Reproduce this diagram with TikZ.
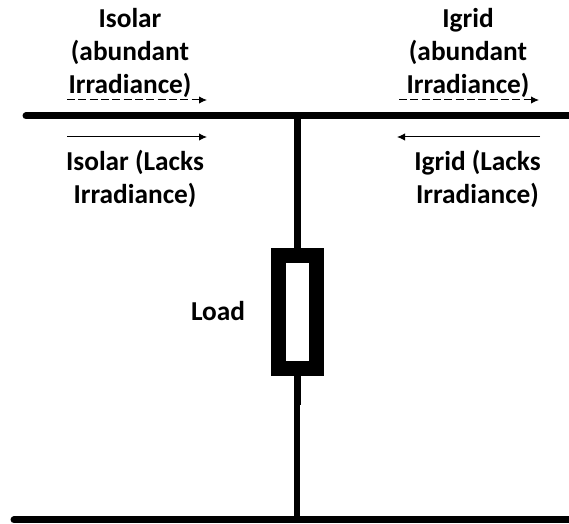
\documentclass[tikz,border=0pt]{standalone}
\usepackage{fontspec}
\setmainfont{Carlito}
\usetikzlibrary{arrows.meta}
\tikzset{
  wire/.style={line width=5.25pt},
  flow/.style={line width=0.75pt,-{Latex[length=6pt,width=5.5pt]}},
  lbl/.style={align=center,font=\fontsize{20.5}{24.75}\selectfont\bfseries,inner sep=0pt},
}
\begin{document}
\begin{tikzpicture}[x=0.75pt,y=-0.75pt]
  \useasboundingbox (0,0) rectangle (569,524);
  \coordinate (a) at (26,116);
  \coordinate (b) at (572,116);
  \coordinate (c) at (14,520);
  \coordinate (d) at (572,520);
  \coordinate (t) at (297,116);
  \coordinate (m) at (297,405);
  \coordinate (u) at (297,520);
  \draw[wire,line cap=round] (a) -- (b);
  \draw[wire,line cap=round] (c) -- (d);
  \node[draw,line width=11.25pt,minimum width=28.5pt,minimum height=84.75pt,inner sep=0pt,fill=white] (load) at (297,312) {};
  \draw[wire] (t) -- (load);
  \draw[wire] (load) -- (m);
  \draw[line width=4.5pt] (m) -- (u);
  \coordinate (s1) at (67,100);
  \coordinate (e1) at (207,100);
  \coordinate (s2) at (67,137);
  \coordinate (e2) at (207,137);
  \coordinate (s3) at (399,100);
  \coordinate (e3) at (539,100);
  \coordinate (s4) at (540,137);
  \coordinate (e4) at (397,137);
  \draw[flow,dash pattern=on 6pt off 2.5pt] (s1) -- (e1);
  \draw[flow] (s2) -- (e2);
  \draw[flow,dash pattern=on 6pt off 2.5pt] (s3) -- (e3);
  \draw[flow] (s4) -- (e4);
  \node[lbl] (l1) at (130,52.5) {Isolar\\(abundant\\Irradiance)};
  \node[lbl] (l2) at (135,179) {Isolar (Lacks\\Irradiance)};
  \node[lbl] (l3) at (468,52.5) {Igrid\\(abundant\\Irradiance)};
  \node[lbl] (l4) at (477.5,179) {Igrid (Lacks\\Irradiance)};
  \node[lbl] (l5) at (218,311.5) {Load};
\end{tikzpicture}
\end{document}
